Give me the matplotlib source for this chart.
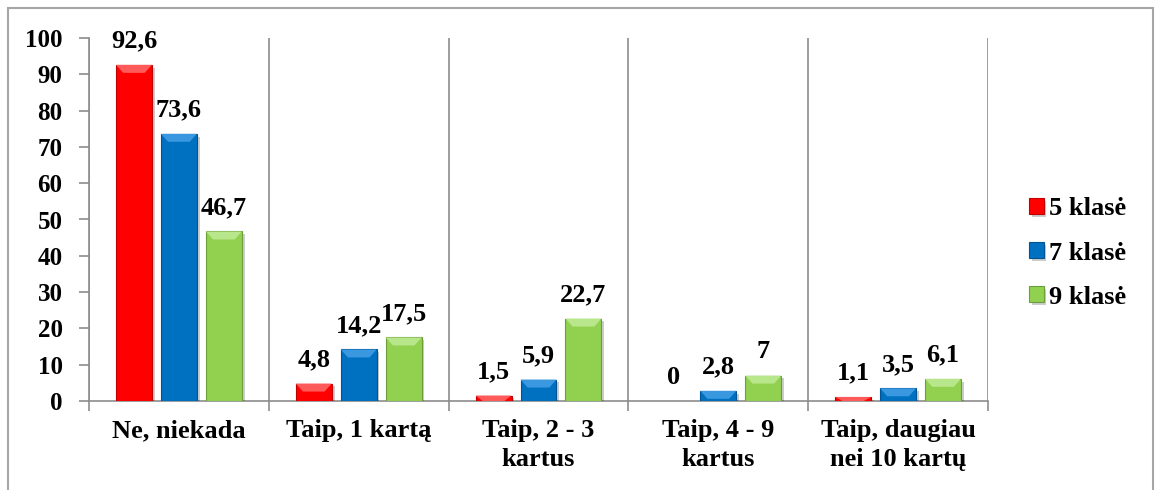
import matplotlib
matplotlib.use("Agg")
import matplotlib.pyplot as plt
import matplotlib.patheffects as pe
from matplotlib.patches import Rectangle, Polygon
import numpy as np

plt.rcParams["font.family"] = ["Liberation Serif", "DejaVu Serif"]
plt.rcParams["font.weight"] = "bold"

# ── data ──────────────────────────────────────────────
categories = ["Ne, niekada", "Taip, 1 kartą", "Taip, 2 - 3\nkartus",
              "Taip, 4 - 9\nkartus", "Taip, daugiau\nnei 10 kartų"]
series_names = ["5 klasė", "7 klasė", "9 klasė"]
klase5 = [92.6, 4.8, 1.5, 0, 1.1]
klase7 = [73.6, 14.2, 5.9, 2.8, 3.5]
klase9 = [46.7, 17.5, 22.7, 7, 6.1]
labels5 = ["92,6", "4,8", "1,5", "0", "1,1"]
labels7 = ["73,6", "14,2", "5,9", "2,8", "3,5"]
labels9 = ["46,7", "17,5", "22,7", "7", "6,1"]

COLORS = ["#ff0000", "#0070c0", "#92d050"]
EDGES = ["#c00000", "#005494", "#6c9e3a"]
TOPS = ["#ff5a5a", "#3a98e0", "#b8e68a"]
GRAY = "#8c8c8c"

fig = plt.figure(figsize=(11.56, 4.90), dpi=100)
ax = fig.add_axes([89 / 1156, 1 - 401 / 490, (988 - 89) / 1156, (401 - 38) / 490])

x = np.arange(len(categories))
step, width = 0.25, 0.2
shadow = [pe.SimplePatchShadow(offset=(2, -2), shadow_rgbFace="#000000", alpha=0.2), pe.Normal()]

for i, (vals, labs) in enumerate(zip([klase5, klase7, klase9], [labels5, labels7, labels9])):
    bars = ax.bar(x + (i - 1) * step, vals, width, color=COLORS[i], edgecolor=EDGES[i],
                  linewidth=0.8, label=series_names[i], zorder=3, path_effects=shadow)
    for b, lab in zip(bars, labs):
        bx, bw, bh = b.get_x(), b.get_width(), b.get_height()
        if bh > 0:
            dy = min(bh, 2.2)
            ax.add_patch(Polygon([(bx, bh), (bx + bw, bh), (bx + bw - 0.04, bh - dy),
                                  (bx + 0.04, bh - dy)], closed=True, color=TOPS[i],
                                 lw=0, zorder=4))
        else:
            b.set_visible(False)
        ax.annotate(lab, (bx + bw / 2, bh), xytext=(0, 12.5), textcoords="offset points",
                    ha="center", va="baseline", fontsize=19, fontweight="bold",
                    color="black", zorder=5)

ax.set_xlim(-0.5, len(categories) - 0.5)
ax.set_ylim(0, 100)
ax.set_yticks(range(0, 101, 10))
ax.set_xticks(x)
ax.set_xticklabels(categories, fontsize=19, fontweight="bold", linespacing=1.35)
ax.set_xticks(np.arange(-0.5, len(categories)), minor=True)
ax.tick_params(axis="x", which="major", length=0, pad=13)
ax.tick_params(axis="x", which="minor", length=7, color=GRAY, width=1.2)
ax.tick_params(axis="y", length=7, color=GRAY, width=1.2, pad=12, labelsize=18)
for t in ax.get_yticklabels():
    t.set_fontweight("bold")
ax.grid(axis="x", which="minor", color=GRAY, lw=1.2, zorder=1)
ax.grid(axis="y", visible=False)
for s in ["top", "right"]:
    ax.spines[s].set_visible(False)
for s in ["left", "bottom"]:
    ax.spines[s].set_color(GRAY)
    ax.spines[s].set_linewidth(1.2)

leg = fig.legend(loc="center left", bbox_to_anchor=(1029 / 1156, 1 - 253 / 490),
                 frameon=False, fontsize=19, handlelength=0.55, handleheight=0.55,
                 handletextpad=0.2, labelspacing=0.8, borderpad=0, borderaxespad=0)
for t in leg.get_texts():
    t.set_fontweight("bold")

# outer chart frame
fig.patches.append(Rectangle((8 / 1156, -0.05), (1153 - 8) / 1156, 1.05 - 8 / 490,
                             transform=fig.transFigure, fill=False,
                             edgecolor="#a6a6a6", lw=1.5, zorder=0))

fig.savefig("out.png", dpi=100, facecolor="white")
